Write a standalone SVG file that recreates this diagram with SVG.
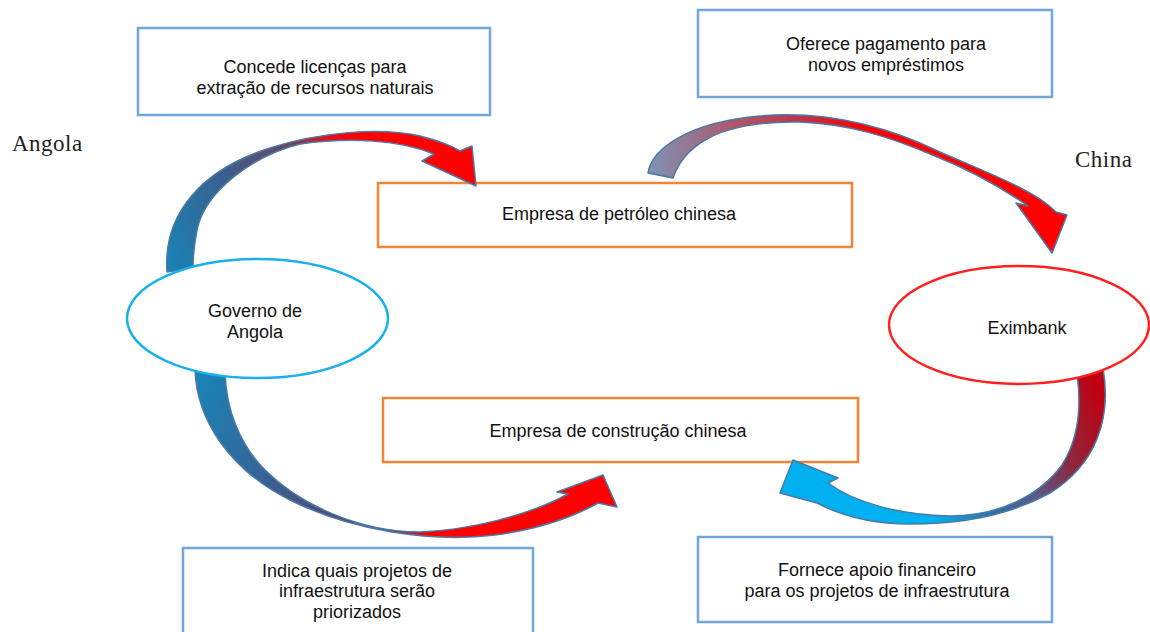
<svg xmlns="http://www.w3.org/2000/svg" width="1150" height="632" viewBox="0 0 1150 632">
<style>
.bx{fill:#fff;stroke:#6fa6dc;stroke-width:2.5}
.org{fill:#fff;stroke:#f08537;stroke-width:2.5}
.t{font-family:"Liberation Sans",Arial,sans-serif;font-size:18px;fill:#111;text-anchor:middle}
.s{font-family:"Liberation Serif","Times New Roman",serif;font-size:23px;fill:#222;letter-spacing:0.5px}
.arr{stroke:#4a79a5;stroke-width:1.5;stroke-linejoin:round}
</style>
<defs>
<linearGradient id="g1" gradientUnits="userSpaceOnUse" x1="170" y1="260" x2="430" y2="150">
<stop offset="0" stop-color="#1b80b3"/><stop offset="0.3" stop-color="#3c5f8e"/><stop offset="0.55" stop-color="#6b4560"/><stop offset="0.68" stop-color="#e01020"/><stop offset="0.75" stop-color="#ff0000"/><stop offset="1" stop-color="#ff0000"/>
</linearGradient>
<linearGradient id="g2" gradientUnits="userSpaceOnUse" x1="648" y1="150" x2="1000" y2="150">
<stop offset="0" stop-color="#7f93b5"/><stop offset="0.25" stop-color="#b0566a"/><stop offset="0.45" stop-color="#c23045"/><stop offset="0.6" stop-color="#ff0000"/><stop offset="1" stop-color="#ff0000"/>
</linearGradient>
<linearGradient id="g3" gradientUnits="userSpaceOnUse" x1="200" y1="380" x2="560" y2="520">
<stop offset="0" stop-color="#1a82b5"/><stop offset="0.4" stop-color="#4a4f80"/><stop offset="0.55" stop-color="#6a3a60"/><stop offset="0.7" stop-color="#ff0000"/><stop offset="1" stop-color="#ff0000"/>
</linearGradient>
<linearGradient id="g4" gradientUnits="userSpaceOnUse" x1="1095" y1="380" x2="830" y2="500">
<stop offset="0" stop-color="#c00010"/><stop offset="0.2" stop-color="#8a2a40"/><stop offset="0.35" stop-color="#5a5a88"/><stop offset="0.5" stop-color="#2f70a0"/><stop offset="0.7" stop-color="#00b0f0"/><stop offset="1" stop-color="#00b0f0"/>
</linearGradient>
</defs>
<rect width="1150" height="632" fill="#fff"/>

<g id="box-licencas">
<rect class="bx" x="138" y="28" width="352" height="87"/>
<text class="t" x="315" y="73">Concede licenças para</text>
<text class="t" x="315" y="94">extração de recursos naturais</text>
</g>
<g id="box-pagamento">
<rect class="bx" x="698" y="10" width="354" height="87"/>
<text class="t" x="886" y="50">Oferece pagamento para</text>
<text class="t" x="886" y="71">novos empréstimos</text>
</g>
<g id="box-petroleo">
<rect class="org" x="378" y="183" width="474" height="64"/>
<text class="t" x="619" y="220">Empresa de petróleo chinesa</text>
</g>
<g id="box-construcao">
<rect class="org" x="383" y="398" width="475" height="64"/>
<text class="t" x="618" y="437">Empresa de construção chinesa</text>
</g>
<g id="box-indica">
<rect class="bx" x="183" y="548" width="350" height="95"/>
<text class="t" x="357" y="577">Indica quais projetos de</text>
<text class="t" x="357" y="597">infraestrutura serão</text>
<text class="t" x="357" y="618">priorizados</text>
</g>
<g id="box-fornece">
<rect class="bx" x="698" y="537" width="354" height="85"/>
<text class="t" x="877" y="576">Fornece apoio financeiro</text>
<text class="t" x="877" y="597">para os projetos de infraestrutura</text>
</g>

<g id="connectors">
<path class="arr" fill="url(#g1)" d="M167,272 C163,215 200,170 270,148 C320,132 380,127 420,136 C440,141 452,146 460,151 L472,146 L476,186 L422,161 L434,154 C400,140 350,137 300,144 C255,155 205,190 197,230 C194,245 193,255 193,268 Z"/>
<path class="arr" fill="url(#g2)" d="M648,173 C652,148 690,122 760,116 C830,110 890,128 940,152 C985,172 1035,190 1056,212 L1067,215 L1052,253 L1016,203 L1028,206 C1005,190 975,172 935,156 C890,137 850,124 800,122 C760,121 725,128 705,140 C688,150 678,163 673,178 Z"/>
<path class="arr" fill="url(#g3)" d="M195,368 C196,420 230,470 290,500 C350,530 430,543 495,535 C540,529 575,516 598,503 L617,507 L603,475 L557,492 L568,494 C530,515 470,530 420,532 C360,532 300,505 265,470 C240,445 226,410 225,372 Z"/>
<path class="arr" fill="url(#g4)" d="M1103,368 C1112,420 1095,465 1050,493 C1010,515 960,524 910,524 C870,524 838,514 817,503 L780,493 L793,460 L838,478 L828,483 C855,503 900,515 950,516 C1000,516 1040,495 1062,465 C1078,440 1082,410 1077,374 Z"/>
</g>

<g id="node-governo">
<ellipse cx="257.5" cy="318.5" rx="130.5" ry="59.5" fill="#fff" stroke="#1ab0ea" stroke-width="2.5"/>
<text class="t" x="255" y="317">Governo de</text>
<text class="t" x="255" y="338">Angola</text>
</g>
<g id="node-eximbank">
<ellipse cx="1019" cy="325" rx="130" ry="59" fill="#fff" stroke="#ff2020" stroke-width="2.5"/>
<text class="t" x="1027" y="334">Eximbank</text>
</g>

<text class="s" x="12" y="151">Angola</text>
<text class="s" x="1075" y="167">China</text>
</svg>
